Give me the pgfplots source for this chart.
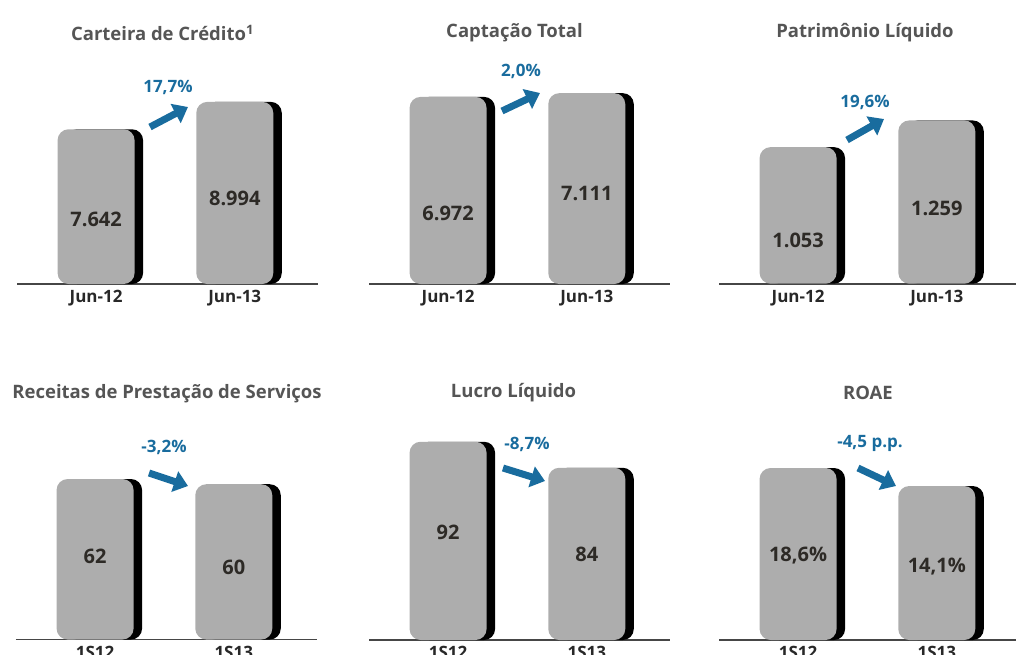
\documentclass[border=0pt]{standalone}
\usepackage{fontspec}
\setmainfont{Open Sans}
\usepackage{pgfplots}
\pgfplotsset{compat=1.18}
\usetikzlibrary{arrows.meta}
\definecolor{bargray}{RGB}{173,173,173}
\definecolor{titlecol}{RGB}{85,85,85}
\definecolor{valcol}{RGB}{45,42,38}
\definecolor{tickcol}{RGB}{40,40,40}
\definecolor{axiscol}{RGB}{70,70,70}
\definecolor{bblue}{RGB}{25,108,158}
\pgfplotsset{
  panel/.style={
    scale only axis, width=301pt, height=200pt,
    xmin=-0.57, xmax=1.6, ymin=0,
    axis x line=bottom, axis y line=none,
    axis line style={draw=axiscol, line width=1.6pt, -},
    xtick={0,1}, major tick length=0pt,
    xticklabel style={font=\fontsize{17}{17}\selectfont\bfseries, text=tickcol, inner sep=2pt, yshift=-4pt},
    clip=false, anchor=south west,
  },
  shadowbar/.style={ybar, bar width=77pt, bar shift=8.5pt, fill=black, draw=none, rounded corners=11pt},
  greybar/.style={ybar, bar width=77pt, bar shift=0pt, fill=bargray, draw=none, rounded corners=11pt},
}
\tikzset{
  val/.style={font=\fontsize{20}{20}\selectfont\bfseries, text=valcol},
  pct/.style={font=\fontsize{17}{17}\selectfont\bfseries, text=bblue},
  ttl/.style={font=\fontsize{18.5}{18.5}\selectfont\bfseries, text=titlecol},
  barrow/.style={draw=bblue, line width=7pt, -{Triangle[length=14pt,width=21pt]}},
}
\begin{document}
\begin{tikzpicture}
% Panel 1
\begin{axis}[panel, at={(17pt,-284pt)}, ymax=9877, xticklabels={Jun-12,Jun-13}]
\addplot[shadowbar] coordinates {(0,7642) (1,8994)};
\addplot[greybar] coordinates {(0,7642) (1,8994)};
\node[val] at (rel axis cs:0.2627,0.325) {7.642};
\node[val] at (rel axis cs:0.7235,0.43) {8.994};
\end{axis}
% Panel 2
\begin{axis}[panel, at={(369pt,-284pt)}, ymax=7452, xticklabels={Jun-12,Jun-13}]
\addplot[shadowbar] coordinates {(0,6972) (1,7111)};
\addplot[greybar] coordinates {(0,6972) (1,7111)};
\node[val] at (rel axis cs:0.2627,0.355) {6.972};
\node[val] at (rel axis cs:0.7235,0.455) {7.111};
\end{axis}
% Panel 3
\begin{axis}[panel, at={(719pt,-283.7pt)}, ymax=1542, xticklabels={Jun-12,Jun-13}]
\addplot[shadowbar] coordinates {(0,1053) (1,1259)};
\addplot[greybar] coordinates {(0,1053) (1,1259)};
\node[val] at (rel axis cs:0.2627,0.2185) {1.053};
\node[val] at (rel axis cs:0.7235,0.378) {1.259};
\end{axis}
% Panel 4
\begin{axis}[panel, at={(16pt,-639.5pt)}, ymax=77.28, xticklabels={1S12,1S13}]
\addplot[shadowbar] coordinates {(0,62) (1,60)};
\addplot[greybar] coordinates {(0,62) (1,60)};
\node[val] at (rel axis cs:0.2627,0.414) {62};
\node[val] at (rel axis cs:0.7235,0.3625) {60};
\end{axis}
% Panel 5
\begin{axis}[panel, at={(369pt,-640pt)}, ymax=61.54, y filter/.expression={y-31}, xticklabels={1S12,1S13}]
\addplot[shadowbar] coordinates {(0,92) (1,84)};
\addplot[greybar] coordinates {(0,92) (1,84)};
\node[val] at (rel axis cs:0.2627,0.54) {92};
\node[val] at (rel axis cs:0.7235,0.43) {84};
\end{axis}
% Panel 6
\begin{axis}[panel, at={(719pt,-640pt)}, ymax=50, y filter/.expression={y+24.4}, xticklabels={1S12,1S13}]
\addplot[shadowbar] coordinates {(0,18.6) (1,14.1)};
\addplot[greybar] coordinates {(0,18.6) (1,14.1)};
\node[val] at (rel axis cs:0.2627,0.42) {18,6\%};
\node[val] at (rel axis cs:0.7235,0.365) {14,1\%};
\end{axis}
% Titles
\node[ttl] at (162.5pt,-33pt) {Carteira de Crédito\textsuperscript{1}};
\node[ttl] at (514.5pt,-33pt) {Captação Total};
\node[ttl] at (865pt,-33pt) {Patrimônio Líquido};
\node[ttl] at (167pt,-394pt) {Receitas de Prestação de Serviços};
\node[ttl] at (513.5pt,-393pt) {Lucro Líquido};
\node[ttl] at (868pt,-393pt) {ROAE};
% Growth arrows and labels
\draw[barrow] (150pt,-127pt) -- (188pt,-107pt);
\node[pct] at (168pt,-87pt) {17,7\%};
\draw[barrow] (502pt,-111pt) -- (540pt,-93pt);
\node[pct] at (521pt,-71pt) {2,0\%};
\draw[barrow] (847pt,-140pt) -- (884pt,-119pt);
\node[pct] at (865pt,-102pt) {19,6\%};
\draw[barrow] (149pt,-473pt) -- (188pt,-486pt);
\node[pct] at (164pt,-447pt) {-3,2\%};
\draw[barrow] (503pt,-468pt) -- (545pt,-481pt);
\node[pct] at (527pt,-444pt) {-8,7\%};
\draw[barrow] (858pt,-468pt) -- (896pt,-486pt);
\node[pct] at (870pt,-443pt) {-4,5 p.p.};
\pgfresetboundingbox
\path (0pt,0pt) rectangle (1016pt,-654pt);
\end{tikzpicture}
\end{document}
